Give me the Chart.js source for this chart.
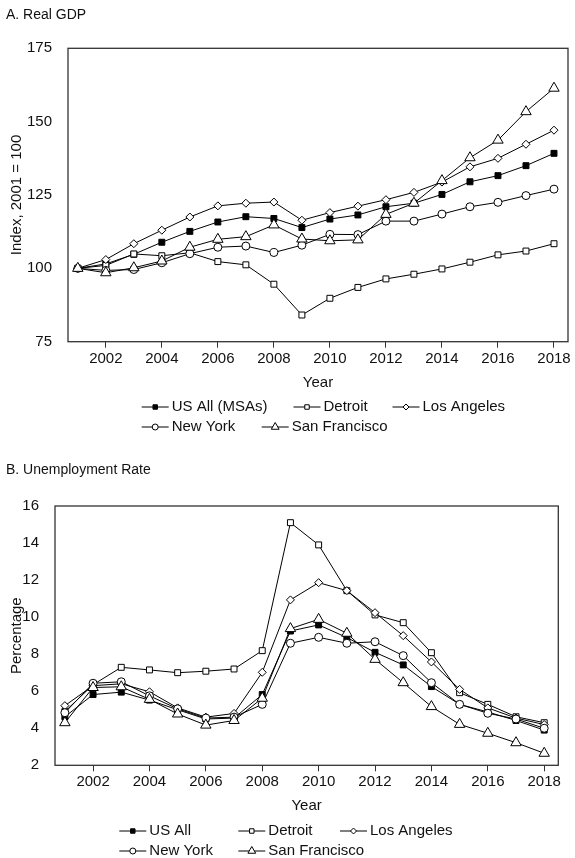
<!DOCTYPE html>
<html>
<head>
<meta charset="utf-8">
<title>Real GDP and Unemployment Rate</title>
<script src="https://cdn.jsdelivr.net/npm/chart.js@4.4.1/dist/chart.umd.min.js"></script>
<style>
  html, body { margin: 0; padding: 0; background: #fff; }
  #page { position: relative; width: 575px; height: 858px; }
  .panel { position: absolute; left: 0; width: 575px; }
</style>
</head>
<body>
<div id="page">
  <div class="panel" style="top:0;height:445px"><canvas id="gdp" width="575" height="445"></canvas></div>
  <div class="panel" style="top:445px;height:413px"><canvas id="unemp" width="575" height="413"></canvas></div>
</div>
<script>
// ---- data ----
const years = [2001, 2002, 2003, 2004, 2005, 2006, 2007, 2008, 2009,
               2010, 2011, 2012, 2013, 2014, 2015, 2016, 2017, 2018];
const yearTicks = [2002, 2004, 2006, 2008, 2010, 2012, 2014, 2016, 2018];

// Panel A: real GDP index, 2001 = 100
const gdpTicks = [75, 100, 125, 150, 175];
const gdpUsAll = [100, 101.5, 104.8, 108.9, 112.6, 115.8, 117.6, 117.0, 113.9,
                  116.8, 118.2, 121.0, 122.2, 125.2, 129.5, 131.6, 135.0, 139.2];
const gdpDetroit = [100, 101.0, 104.9, 104.3, 105.3, 102.3, 101.2, 94.6, 84.1,
                    89.8, 93.5, 96.4, 98.0, 99.8, 102.1, 104.6, 105.9, 108.4];
const gdpLosAngeles = [100, 103.0, 108.4, 113.0, 117.5, 121.3, 122.2, 122.6, 116.4,
                       119.0, 121.2, 123.4, 125.9, 129.4, 134.6, 137.5, 142.3, 147.1];
const gdpNewYork = [100, 99.3, 99.6, 101.9, 105.0, 107.2, 107.6, 105.4, 107.9,
                    111.6, 111.5, 116.1, 116.1, 118.5, 121.0, 122.5, 124.8, 127.0];
const gdpSanFrancisco = [100, 98.5, 100.2, 102.5, 107.2, 109.9, 110.8, 114.8, 110.0,
                         109.4, 109.7, 118.4, 122.2, 129.9, 137.7, 143.7, 153.4, 161.4];

// Panel B: unemployment rate, percent
const unempTicks = [2, 4, 6, 8, 10, 12, 14, 16];
const unempUsAll = [4.62, 5.82, 5.95, 5.52, 5.0, 4.5, 4.55, 5.82, 9.25,
                    9.58, 8.9, 8.1, 7.42, 6.25, 5.29, 4.88, 4.42, 3.9];
const unempDetroit = [4.9, 6.35, 7.29, 7.15, 7.0, 7.08, 7.2, 8.19, 15.1,
                      13.9, 11.43, 10.12, 9.7, 8.08, 5.92, 5.29, 4.62, 4.3];
const unempLosAngeles = [5.22, 6.3, 6.4, 5.97, 5.1, 4.6, 4.8, 7.02, 10.93,
                         11.86, 11.43, 10.24, 9.0, 7.58, 6.1, 5.1, 4.55, 4.2];
const unempNewYork = [4.84, 6.43, 6.51, 5.75, 5.05, 4.55, 4.6, 5.29, 8.59,
                      8.91, 8.59, 8.67, 7.92, 6.46, 5.29, 4.81, 4.5, 4.0];
const unempSanFrancisco = [4.3, 6.2, 6.24, 5.56, 4.77, 4.17, 4.42, 5.62, 9.38,
                           9.88, 9.13, 7.72, 6.46, 5.17, 4.21, 3.73, 3.22, 2.65];

// ---- styling ----
const FONT = "'Liberation Sans', Arial, Helvetica, sans-serif";
const INK = '#000';
const FRAME = '#333';
Chart.defaults.font.family = FONT;
Chart.defaults.color = '#111';

const markers = {
  usAll:   { pointStyle: 'rect',     bg: '#000', radius: 4.2 },
  detroit: { pointStyle: 'rect',     bg: '#fff', radius: 4.2 },
  la:      { pointStyle: 'rectRot',  bg: '#fff', radius: 4.0 },
  ny:      { pointStyle: 'circle',   bg: '#fff', radius: 4.0 },
  sf:      { pointStyle: 'triangle', bg: '#fff', radius: 6.0 }
};

// later series are painted over earlier ones
function series(label, values, m, index) {
  return {
    label: label,
    data: years.map((yr, i) => ({ x: yr, y: values[i] })),
    order: 10 - index,
    borderColor: INK,
    borderWidth: 1,
    tension: 0,
    fill: false,
    pointStyle: m.pointStyle,
    pointRadius: m.radius,
    pointHoverRadius: m.radius,
    pointBackgroundColor: m.bg,
    pointBorderColor: INK,
    pointBorderWidth: 1
  };
}

// Plot frame around the chart area
const framePlugin = {
  id: 'frame',
  beforeDatasetsDraw(chart) {
    const a = chart.chartArea, ctx = chart.ctx;
    ctx.save();
    ctx.strokeStyle = FRAME;
    ctx.lineWidth = 1.3;
    ctx.strokeRect(a.left, a.top, a.right - a.left, a.bottom - a.top);
    ctx.restore();
  }
};

// Panel heading, left aligned
const headingPlugin = {
  id: 'heading',
  afterDraw(chart, args, opts) {
    const ctx = chart.ctx;
    ctx.save();
    ctx.fillStyle = '#111';
    ctx.font = '14px ' + FONT;
    ctx.textBaseline = 'middle';
    ctx.textAlign = 'left';
    ctx.fillText(opts.text, opts.x, opts.y);
    ctx.restore();
  }
};

// Legend laid out in rows: a short line with the series marker, then its name
const rowLegendPlugin = {
  id: 'rowLegend',
  afterDraw(chart, args, opts) {
    const ctx = chart.ctx;
    ctx.save();
    ctx.font = '15px ' + FONT;
    ctx.textBaseline = 'middle';
    ctx.textAlign = 'left';
    opts.rows.forEach((row, r) => {
      const y = opts.y[r];
      row.forEach((dsIndex, c) => {
        const ds = chart.data.datasets[dsIndex];
        const x = opts.x[r][c];
        const len = opts.lineLength;
        ctx.strokeStyle = INK;
        ctx.lineWidth = 1;
        ctx.beginPath();
        ctx.moveTo(x, y);
        ctx.lineTo(x + len, y);
        ctx.stroke();
        ctx.fillStyle = ds.pointBackgroundColor;
        ctx.strokeStyle = INK;
        ctx.lineWidth = 1;
        Chart.helpers.drawPoint(ctx, {
          pointStyle: ds.pointStyle,
          radius: ds.pointRadius * 0.75,
          rotation: 0,
          borderWidth: 1
        }, x + len / 2, y);
        ctx.fillStyle = '#111';
        ctx.fillText(ds.label, x + len + 3, y);
      });
    });
    ctx.restore();
  }
};

function makeChart(canvasId, cfg) {
  return new Chart(document.getElementById(canvasId), {
    type: 'line',
    data: { datasets: cfg.datasets },
    plugins: [framePlugin, headingPlugin, rowLegendPlugin],
    options: {
      responsive: false,
      animation: false,
      events: [],
      layout: { padding: cfg.padding },
      scales: {
        x: {
          type: 'linear',
          min: 2000.65,
          max: 2018.5,
          afterBuildTicks(scale) { scale.ticks = yearTicks.map(v => ({ value: v })); },
          afterFit(scale) { scale.height = cfg.xHeight; },
          grid: { display: true, drawOnChartArea: false, drawTicks: true,
                  tickLength: 6, tickColor: FRAME, tickWidth: 1 },
          border: { display: false },
          ticks: { padding: 2, maxRotation: 0, autoSkip: false,
                   font: { size: 15 }, color: '#111',
                   callback: v => String(v) },
          title: { display: true, text: 'Year', color: '#111',
                   font: { size: 15 }, padding: { top: 0, bottom: 0 } }
        },
        y: {
          type: 'linear',
          min: cfg.yTicks[0],
          max: cfg.yTicks[cfg.yTicks.length - 1],
          afterBuildTicks(scale) { scale.ticks = cfg.yTicks.map(v => ({ value: v })); },
          afterFit(scale) { scale.width = cfg.yWidth; },
          grid: { display: false },
          border: { display: false },
          ticks: { padding: 8, font: { size: 15 }, color: '#111',
                   callback: v => String(v) },
          title: { display: true, text: cfg.yTitle, color: '#111',
                   font: { size: 15 }, padding: { top: 7.7, bottom: 0 } }
        }
      },
      plugins: {
        legend: { display: false },
        tooltip: { enabled: false },
        heading: cfg.heading,
        rowLegend: cfg.legend
      }
    }
  });
}

makeChart('gdp', {
  datasets: [
    series('US All (MSAs)', gdpUsAll, markers.usAll, 0),
    series('Detroit', gdpDetroit, markers.detroit, 1),
    series('Los Angeles', gdpLosAngeles, markers.la, 2),
    series('New York', gdpNewYork, markers.ny, 3),
    series('San Francisco', gdpSanFrancisco, markers.sf, 4)
  ],
  yTicks: gdpTicks,
  yTitle: 'Index, 2001 = 100',
  yWidth: 68,
  xHeight: 50,
  padding: { top: 48.3, right: 4, bottom: 53.3, left: 0 },
  heading: { text: 'A. Real GDP', x: 6, y: 15 },
  legend: {
    rows: [[0, 1, 2], [3, 4]],
    x: [[141.7, 293.5, 392.5], [141.7, 261.7]],
    y: [407, 427],
    lineLength: 27
  }
});

makeChart('unemp', {
  datasets: [
    series('US All', unempUsAll, markers.usAll, 0),
    series('Detroit', unempDetroit, markers.detroit, 1),
    series('Los Angeles', unempLosAngeles, markers.la, 2),
    series('New York', unempNewYork, markers.ny, 3),
    series('San Francisco', unempSanFrancisco, markers.sf, 4)
  ],
  yTicks: unempTicks,
  yTitle: 'Percentage',
  yWidth: 55,
  xHeight: 49.7,
  padding: { top: 61, right: 16.7, bottom: 43, left: 0 },
  heading: { text: 'B. Unemployment Rate', x: 6, y: 25 },
  legend: {
    rows: [[0, 1, 2], [3, 4]],
    x: [[119.3, 238.3, 340], [119.3, 238.3]],
    y: [386, 406],
    lineLength: 27
  }
});
</script>
</body>
</html>
